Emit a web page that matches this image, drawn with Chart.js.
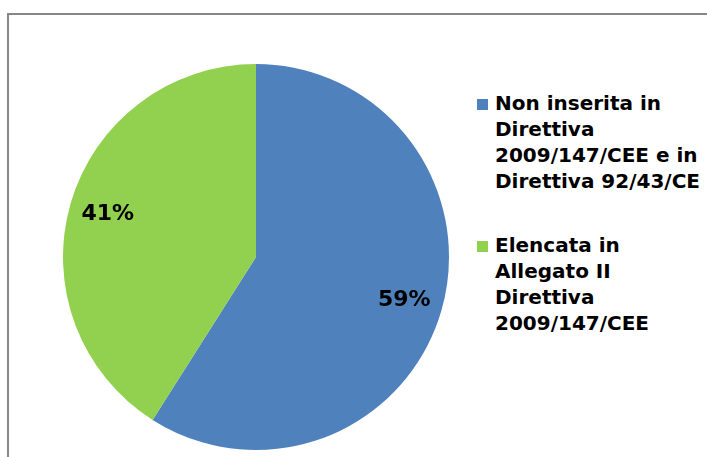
<!DOCTYPE html>
<html>
<head>
<meta charset="utf-8">
<script src="https://cdn.jsdelivr.net/npm/chart.js@4.4.1/dist/chart.umd.min.js"></script>
<style>
  html, body { margin: 0; padding: 0; background: #fff; }
  #wrap { position: relative; width: 707px; height: 457px; overflow: hidden; }
  #frame { position: absolute; left: 7px; top: 13px; width: 760px; height: 500px;
           border-left: 2px solid #878787; border-top: 2px solid #878787; box-sizing: border-box; }
  #pie-box { position: absolute; left: 56px; top: 57px; width: 400px; height: 400px; }
  #legend { position: absolute; left: 477px; top: 90px; font-family: "DejaVu Sans", Verdana, sans-serif;
            font-weight: bold; font-size: 20px; line-height: 26px; color: #000; white-space: nowrap; }
  .item { position: relative; padding-left: 18px; margin-bottom: 38px; }
  .swatch { position: absolute; left: 0; top: 9px; width: 11px; height: 11px; }
</style>
</head>
<body>
<div id="wrap">
  <div id="frame"></div>
  <div id="pie-box"><canvas id="pie"></canvas></div>
  <div id="legend"></div>
</div>
<script>
const categories = [
  ['Non inserita in', 'Direttiva', '2009/147/CEE e in', 'Direttiva 92/43/CE'],
  ['Elencata in', 'Allegato II', 'Direttiva', '2009/147/CEE']
];
const shares = [59, 41];
const colours = ['#4f81bd', '#92d050'];

// percentage labels placed at 80% of the radius, mid-slice
const sliceLabels = {
  id: 'sliceLabels',
  afterDatasetsDraw(chart) {
    const ctx = chart.ctx;
    const meta = chart.getDatasetMeta(0);
    ctx.save();
    ctx.font = 'bold 22px "DejaVu Sans", Verdana, sans-serif';
    ctx.fillStyle = '#000';
    ctx.textAlign = 'center';
    ctx.textBaseline = 'middle';
    meta.data.forEach((arc, i) => {
      const p = arc.getProps(['x', 'y', 'startAngle', 'endAngle', 'outerRadius'], true);
      const mid = (p.startAngle + p.endAngle) / 2;
      const r = p.outerRadius * 0.8;
      ctx.fillText(shares[i] + '%', p.x + Math.cos(mid) * r, p.y + Math.sin(mid) * r);
    });
    ctx.restore();
  }
};

new Chart(document.getElementById('pie'), {
  type: 'pie',
  data: {
    labels: categories.map(c => c.join(' ')),
    datasets: [{ data: shares, backgroundColor: colours, borderWidth: 0 }]
  },
  options: {
    responsive: true,
    maintainAspectRatio: false,
    animation: false,
    layout: { padding: 7 },
    plugins: { legend: { display: false }, tooltip: { enabled: false } }
  },
  plugins: [sliceLabels]
});

document.getElementById('legend').innerHTML = categories.map((lines, i) => `
  <div class="item"><span class="swatch" style="background:${colours[i]}"></span>${lines.join('<br>')}</div>
`).join('');
</script>
</body>
</html>
